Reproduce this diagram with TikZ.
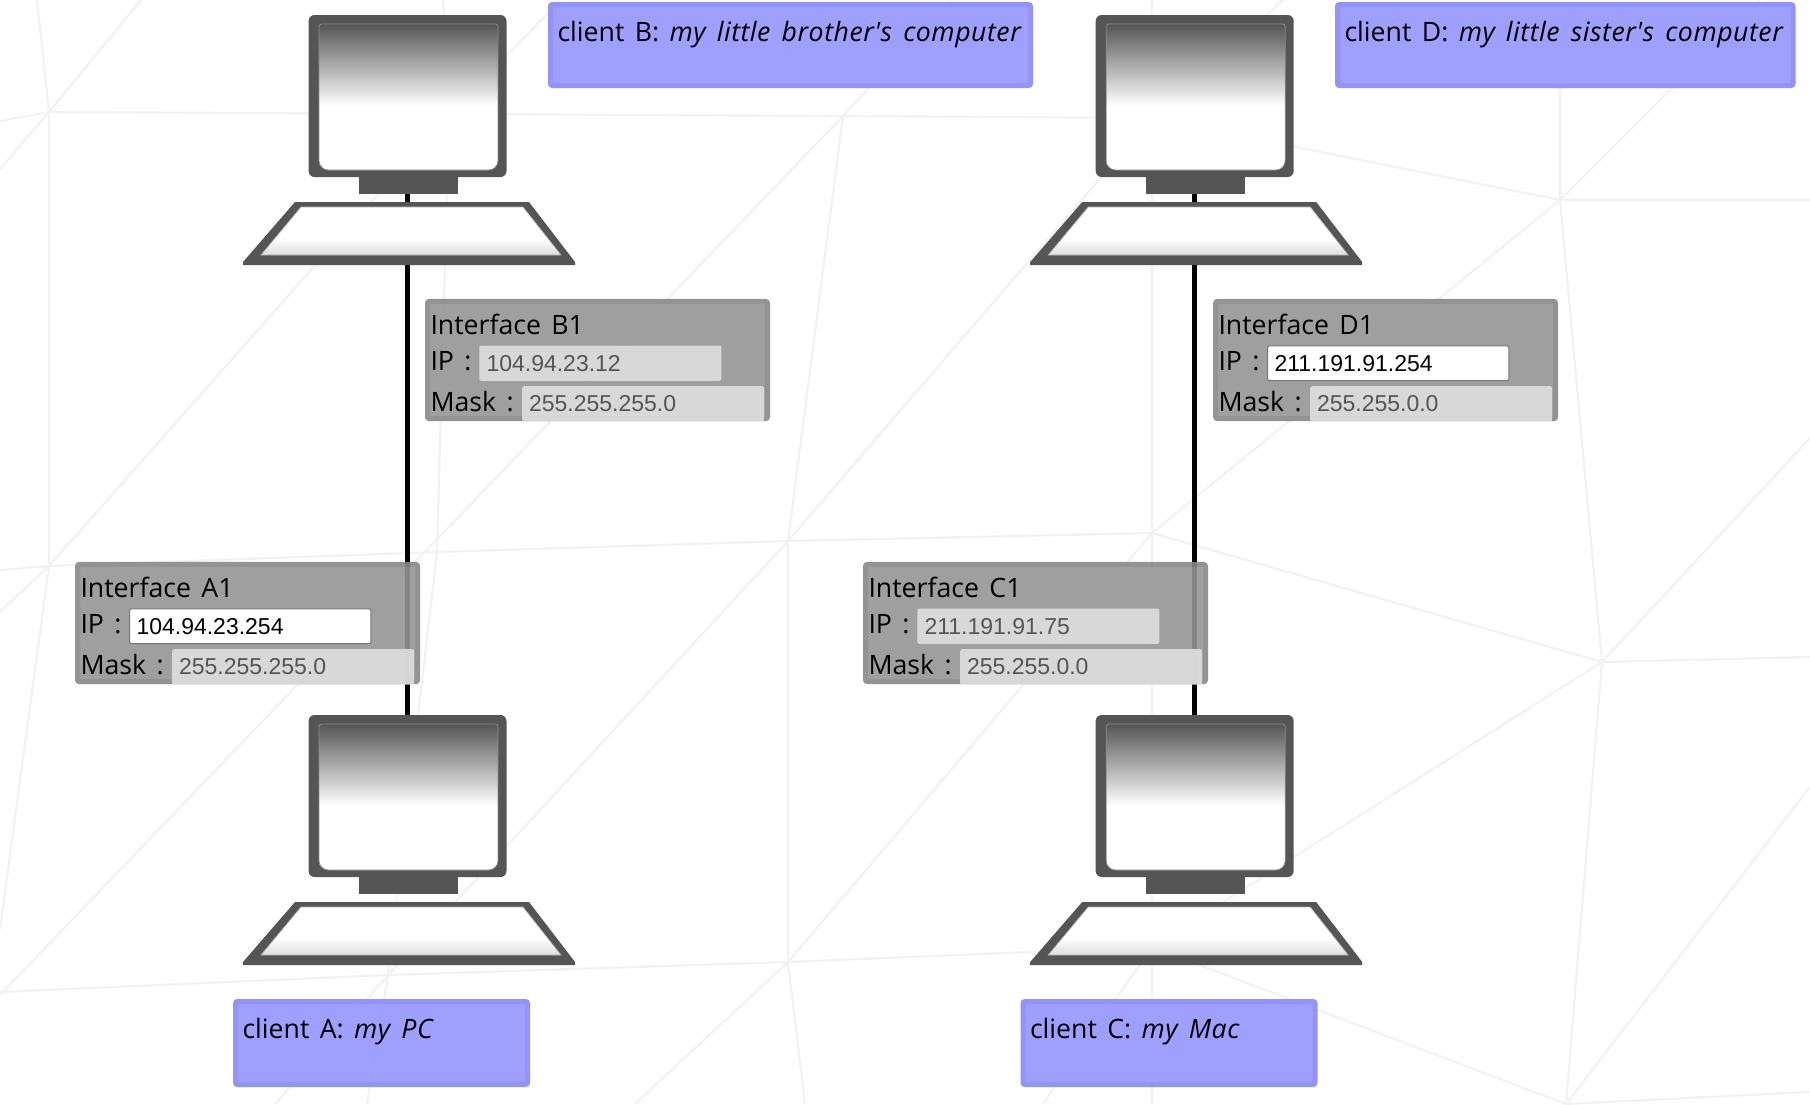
\documentclass[tikz,border=0pt]{standalone}
\usepackage{fontspec}
\setmainfont{Open Sans}
\newfontfamily\labelfont[WordSpace=1.5,ItalicFeatures={LetterSpace=2.0}]{Open Sans}
\newfontfamily\fieldfont{Liberation Sans}
\definecolor{gridline}{HTML}{F2F2F2}
\definecolor{darkframe}{HTML}{555555}
\definecolor{panelfill}{HTML}{959595}
\definecolor{panelrim}{HTML}{888888}
\definecolor{clientfill}{RGB}{149,149,255}
\definecolor{clientrim}{RGB}{136,136,255}
\definecolor{offfield}{HTML}{DFDFDF}
\definecolor{offtext}{HTML}{555555}
\definecolor{fieldrim}{HTML}{767676}
\pgfdeclareverticalshading{screenshade}{100bp}{color(0bp)=(white); color(47bp)=(white); color(75bp)=(darkframe); color(100bp)=(darkframe)}
\pgfdeclareverticalshading{kbshade}{100bp}{color(0bp)=(black!13); color(25bp)=(black!13); color(43bp)=(white); color(100bp)=(white)}
\tikzset{
  x=0.75pt,y=-0.75pt,
  grid/.style={draw=gridline,line width=1.6pt},
  label/.style={anchor=base west,inner sep=0pt,outer sep=0pt,text=black,font=\labelfont\fontsize{20pt}{24pt}\selectfont},
  fieldtext/.style={anchor=base west,inner sep=0pt,outer sep=0pt,font=\fieldfont\fontsize{17.25pt}{20pt}\selectfont},
  monitorbody/.style={rectangle,fill=darkframe,rounded corners=4.5pt,minimum width=148.5pt,minimum height=121.5pt,inner sep=0pt,outer sep=0pt},
  standblock/.style={rectangle,fill=darkframe,minimum width=74.25pt,minimum height=12.75pt,inner sep=0pt,outer sep=0pt},
  panel/.style={rectangle,fill=panelfill,draw=panelrim,line width=3.75pt,rounded corners=1.5pt,minimum width=255pt,minimum height=88pt,inner sep=0pt,outer sep=0pt},
  clientbox/.style={rectangle,fill=clientfill,draw=clientrim,line width=3.75pt,rounded corners=1.5pt,inner sep=0pt,outer sep=0pt},
  fieldon/.style={rectangle,fill=white,draw=fieldrim,line width=.75pt,rounded corners=1.5pt,minimum width=181pt,minimum height=26pt,inner sep=0pt,outer sep=0pt},
  fieldoff/.style={rectangle,fill=offfield,opacity=.9,rounded corners=1.5pt,minimum width=181.5pt,minimum height=26.5pt,inner sep=0pt,outer sep=0pt},
  link/.style={draw=black,line width=3.75pt},
}
\newcommand{\monitorat}[3]{%
  \begin{scope}[shift={(#1,#2)}]
    \node[monitorbody] (mon#3) at (407.5,96) {};
    \draw[draw=black!45,line width=.6pt,shading=screenshade]
      (319,100) [rounded corners=2pt] -- (319,24) -- (498,24) -- (498,100)
      [rounded corners=7pt] -- (498,170) -- (319,170) -- cycle;
  \end{scope}}
\newcommand{\baseat}[3]{%
  \begin{scope}[shift={(#1,#2)}]
    \node[standblock] (stand#3) at (408,185.5) {};
    \fill[darkframe] (295,202) -- (529,202) -- (575,262) -- (575,265) -- (243,265) -- (243,262) -- cycle;
    \draw[draw=black!30,line width=.5pt,shading=kbshade] (301,207) -- (523,207) -- (561,255) -- (261,255) -- cycle;
  \end{scope}}
% x, y, name, title, ip, mask, ip field style, ip text colour
\newcommand{\panelat}[8]{%
  \begin{scope}[shift={(#1,#2)}]
    \begin{scope}[transparency group,opacity=.9]
      \node[panel] (panel#3) at (172.5,61) {};
    \end{scope}
    \node[label] (title#3) at (5.5,35) {#4};
    \node[label] (iplabel#3) at (5.5,71.5) {IP :};
    \node[label] (masklabel#3) at (5.5,112) {Mask :};
    \node[#7] (ipfield#3) at (175.3,64.2) {};
    \node[fieldtext,text=#8] (ipvalue#3) at (61.5,72) {#5};
    \node[fieldoff] (maskfield#3) at (218.2,104.9) {};
    \node[fieldtext,text=offtext] (maskvalue#3) at (104,112.7) {#6};
  \end{scope}}
\newcommand{\clientat}[6]{%
  \begin{scope}[transparency group,opacity=.9]
    \node[clientbox,minimum width=#3*0.75pt-3.75pt,minimum height=#4*0.75pt-3.75pt] (box#5) at (#1+#3/2,#2+#4/2) {};
  \end{scope}
  \node[label] (text#5) at (#1+9.5,#2+39) {#6};}
\begin{document}
\begin{tikzpicture}
\useasboundingbox (0,0) rectangle (1810,1104);
\fill[white] (0,0) rectangle (1810,1104);
% background mesh
\coordinate (v1) at (49,112);
\coordinate (v2) at (843,116);
\coordinate (v3) at (1560,200);
\coordinate (v4) at (788,541);
\coordinate (v5) at (788,962);
\coordinate (v6) at (1152,533);
\coordinate (v7) at (1602,662);
\coordinate (v8) at (49,566);
\coordinate (v9) at (388,975);
\coordinate (v10) at (1566,1104);
\coordinate (v12) at (1152,947);
\coordinate (v13) at (1152,118);
\coordinate (v14) at (449,114);
\coordinate (v15) at (437,552);
\coordinate (e1) at (37,0);
\coordinate (e2) at (141,0);
\coordinate (e3) at (0,121);
\coordinate (e4) at (0,169);
\coordinate (e5) at (0,570);
\coordinate (e6) at (0,612);
\coordinate (e7) at (0,929);
\coordinate (e8) at (0,992);
\coordinate (e9) at (0,995);
\coordinate (e10) at (443,0);
\coordinate (e11) at (561,0);
\coordinate (e12) at (950,0);
\coordinate (e13) at (1152,0);
\coordinate (e14) at (1283,0);
\coordinate (e15) at (1560,0);
\coordinate (e16) at (1760,0);
\coordinate (e17) at (1810,200);
\coordinate (e18) at (1810,438);
\coordinate (e19) at (1810,657);
\coordinate (e20) at (1810,787);
\coordinate (e21) at (1810,1092);
\coordinate (e22) at (275,1104);
\coordinate (e23) at (367,1104);
\coordinate (e24) at (635,1104);
\coordinate (e25) at (805,1104);
\coordinate (e26) at (1043,1104);
\coordinate (e27) at (1152,1104);
\path[grid]
  (e1)--(v1) (e2)--(v1) (e3)--(v1) (e4)--(v1) (v1)--(v8) (v1)--(v14) (v14)--(v2) (v2)--(v13) (v13)--(v3)
  (e5)--(v8) (e6)--(v8) (e7)--(v8) (v8)--(v15) (v15)--(v4) (v4)--(v6) (v6)--(v7) (v7)--(e19)
  (e10)--(v14) (v14)--(v15) (v15)--(v9) (e11)--(v14) (v14)--(v8)
  (v2)--(e12) (v2)--(v4) (v2)--(e9) (v4)--(v5) (v4)--(v9) (v4)--(v13)
  (e13)--(v13) (e14)--(v13) (v13)--(v6) (v6)--(v12) (v12)--(e27) (v6)--(v5) (v6)--(v3)
  (e15)--(v3) (e16)--(v3) (v3)--(e17) (v3)--(v7) (v7)--(e18) (v7)--(v10) (v7)--(v12)
  (e8)--(v9) (v9)--(v5) (v5)--(v12) (v12)--(v10) (v12)--(e26) (v10)--(e20) (v10)--(e21)
  (v9)--(e22) (v9)--(e23) (v5)--(e24) (v5)--(e25);
% monitors
\monitorat{0}{0}{B}
\monitorat{0}{700}{A}
\monitorat{787.2}{0}{D}
\monitorat{787.2}{700}{C}
% cables
\path[link] (monB.south) -- (monA.north);
\path[link] (monD.south) -- (monC.north);
% stands and keyboards
\baseat{0}{0}{B}
\baseat{0}{700}{A}
\baseat{787.2}{0}{D}
\baseat{787.2}{700}{C}
% interface panels
\panelat{75}{562}{A}{Interface A1}{104.94.23.254}{255.255.255.0}{fieldon}{black}
\panelat{425}{299}{B}{Interface B1}{104.94.23.12}{255.255.255.0}{fieldoff}{offtext}
\panelat{863}{562}{C}{Interface C1}{211.191.91.75}{255.255.0.0}{fieldoff}{offtext}
\panelat{1213}{299}{D}{Interface D1}{211.191.91.254}{255.255.0.0}{fieldon}{black}
% client captions
\clientat{233}{999}{297}{88}{A}{client A: \textit{my PC}}
\clientat{548}{2}{485}{86}{B}{client B: \textit{my little brother's computer}}
\clientat{1020.5}{999}{297}{88}{C}{client C: \textit{my Mac}}
\clientat{1335}{2}{460.5}{86}{D}{client D: \textit{my little sister's computer}}
\end{tikzpicture}
\end{document}
